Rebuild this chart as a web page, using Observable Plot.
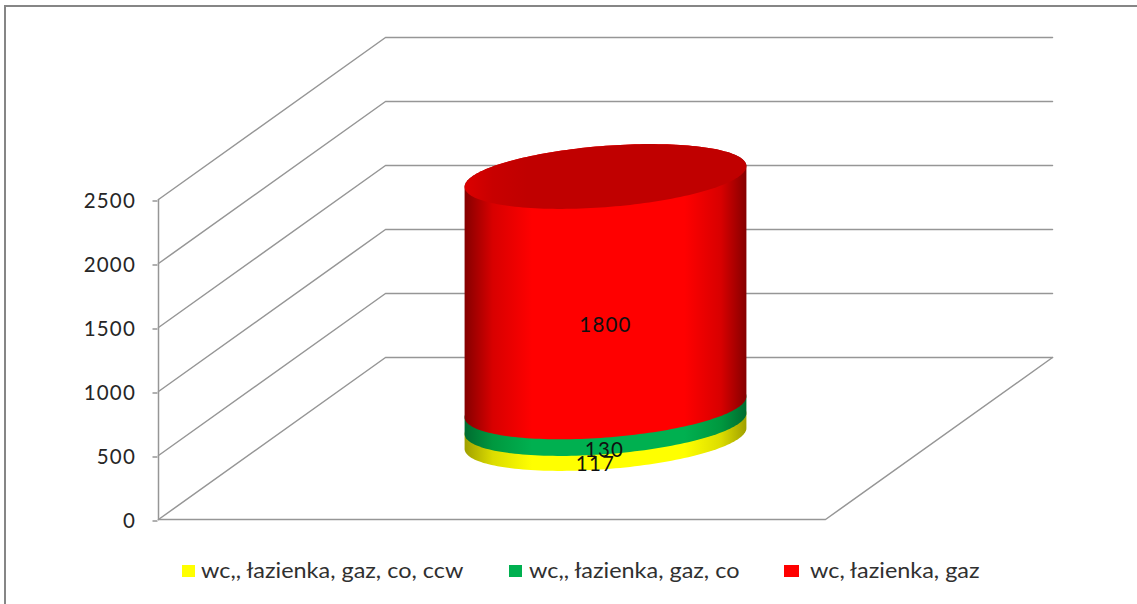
<!DOCTYPE html>
<html>
<head>
<meta charset="utf-8">
<script src="https://cdn.jsdelivr.net/npm/d3@7"></script>
<script src="https://cdn.jsdelivr.net/npm/@observablehq/plot@0.6"></script>
<style>
  html, body { margin: 0; padding: 0; background: #fff; }
  #page { position: relative; width: 1137px; height: 604px; overflow: hidden; font-family: Lato, sans-serif; }
  #frame { position: absolute; left: 4px; top: 5px; right: -4px; bottom: -4px; border: 2px solid #868686; }
  #chart { position: absolute; left: 0; top: 0; }
  .key { position: absolute; top: 565px; height: 12px; }
  .lab { position: absolute; top: 556px; font-size: 21px; line-height: 28px; color: #303030; white-space: nowrap; transform: scaleX(1.115); transform-origin: left center; }
</style>
</head>
<body>
<div id="page">
  <div id="frame"></div>
  <div id="chart"></div>
</div>
<script>
// --- data ---
const categories = ["wc,, łazienka, gaz, co, ccw", "wc,, łazienka, gaz, co", "wc, łazienka, gaz"];
const seriesValues = [117, 130, 1800];
const seriesColors = ["#ffff00", "#00b050", "#ff0000"];
const midColors = ["#dcdc00", "#00983f", "#d80000"];
const edgeColors = ["#a0a000", "#006c30", "#850000"];
const yTicks = [0, 500, 1000, 1500, 2000, 2500];

// --- 3D projection: x across the floor, z into the depth, both 0..1 ---
const floorWidthPx = 667, depthDxPx = 227, depthDyPx = 162;
const pxPerValue = 320 / 2500;
const projX = (x, z) => x + z * depthDxPx / floorWidthPx;
const projY = (v, z) => v + z * depthDyPx / pxPerValue;
const pt = (x, z, v) => ({x: projX(x, z), y: projY(v, z)});

const radius = 0.2, cx = 0.5, cz = 0.5;
const tip = Math.atan2(depthDxPx, floorWidthPx);
const rim = (deg, v) => {
  const t = tip + deg * Math.PI / 180;
  return pt(cx + radius * Math.cos(t), cz + radius * Math.sin(t), v);
};
const degs = d3.range(0, 181, 2);
const frontArc = v => degs.map(d => rim(180 + d, v));   // left tip -> front -> right tip
const backArc = v => degs.map(d => rim(d, v));           // right tip -> back -> left tip

// cumulative stack
let acc = 0;
const stack = seriesValues.map((value, i) => {
  const row = {i, value, name: categories[i], v0: acc, v1: acc + value};
  acc += value;
  return row;
});
const topValue = acc;

// wireframe
const gridLines = yTicks.map(v => ({v, pts: [pt(0, 0, v), pt(0, 1, v), pt(1, 1, v)]}));
const floorEdge = [pt(0, 0, 0), pt(1, 0, 0), pt(1, 1, 0)];
const axisEdge = [pt(0, 0, 0), pt(0, 0, yTicks[yTicks.length - 1])];
const wire = {stroke: "#969696", strokeWidth: 1.5, x: "x", y: "y", curve: "linear"};

const defs = () => {
  const ns = "http://www.w3.org/2000/svg";
  const d = document.createElementNS(ns, "defs");
  const add = (id, stops) => {
    const g = document.createElementNS(ns, "linearGradient");
    g.setAttribute("id", id);
    for (const [o, c] of stops) {
      const s = document.createElementNS(ns, "stop");
      s.setAttribute("offset", o);
      s.setAttribute("stop-color", c);
      g.appendChild(s);
    }
    d.appendChild(g);
  };
  stack.forEach(r => add("body" + r.i, [
    [0, edgeColors[r.i]], [0.1, midColors[r.i]], [0.24, seriesColors[r.i]],
    [0.78, seriesColors[r.i]], [0.91, midColors[r.i]], [1, edgeColors[r.i]]
  ]));
  add("lid", [[0, "#dc0000"], [0.1, "#c80000"], [0.22, "#c00000"], [1, "#c00000"]]);
  return d;
};

const labels = stack.map(r => ({...pt(cx, cz, (r.v0 + r.v1) / 2), text: String(r.value), i: r.i}));
const labelDx = [-10, -1, 0];
const labelDy = [33.5, 35, 33.5];

const plot = Plot.plot({
  width: 1137,
  height: 604,
  margin: 0,
  marginLeft: 157.5,
  style: {background: "transparent", color: "#262626", overflow: "visible", letterSpacing: "1.2px"},
  x: {domain: [0, 1], range: [158, 158 + floorWidthPx], axis: null},
  y: {domain: [0, 2500], range: [519, 199]},
  marks: [
    defs,
    ...gridLines.map(g => Plot.line(g.pts, wire)),
    Plot.line(floorEdge, wire),
    Plot.line(axisEdge, wire),
    Plot.axisY({
      ticks: yTicks, tickSize: 5, tickPadding: 17, label: null,
      stroke: "#969696", strokeWidth: 1.5, fontSize: 20.5, fontFamily: "Lato, sans-serif", dy: 1.5,
      tickFormat: d => String(d)
    }),
    ...stack.map(r => Plot.line([...frontArc(r.v0), ...backArc(r.v1)],
      {x: "x", y: "y", fill: `url(#body${r.i})`, stroke: "none"})),
    Plot.line([...frontArc(topValue), ...backArc(topValue)],
      {x: "x", y: "y", fill: "url(#lid)", stroke: "none"}),
    ...labels.map(l => Plot.text([l], {
      x: "x", y: "y", text: "text", dy: labelDy[l.i], dx: labelDx[l.i],
      fontSize: 20.5, fontFamily: "Lato, sans-serif", fill: "#101010"
    }))
  ]
});
document.getElementById("chart").appendChild(plot);

// legend below/over the plot's lower band
const page = document.getElementById("page");
const keys = [[182, 13, 201], [509, 13, 529], [784, 15, 810]];
categories.forEach((name, i) => {
  const k = document.createElement("div");
  k.className = "key";
  k.style.left = keys[i][0] + "px";
  k.style.width = keys[i][1] + "px";
  k.style.background = seriesColors[i];
  page.appendChild(k);
  const l = document.createElement("div");
  l.className = "lab";
  l.style.left = keys[i][2] + "px";
  l.textContent = name;
  page.appendChild(l);
});
</script>
</body>
</html>
